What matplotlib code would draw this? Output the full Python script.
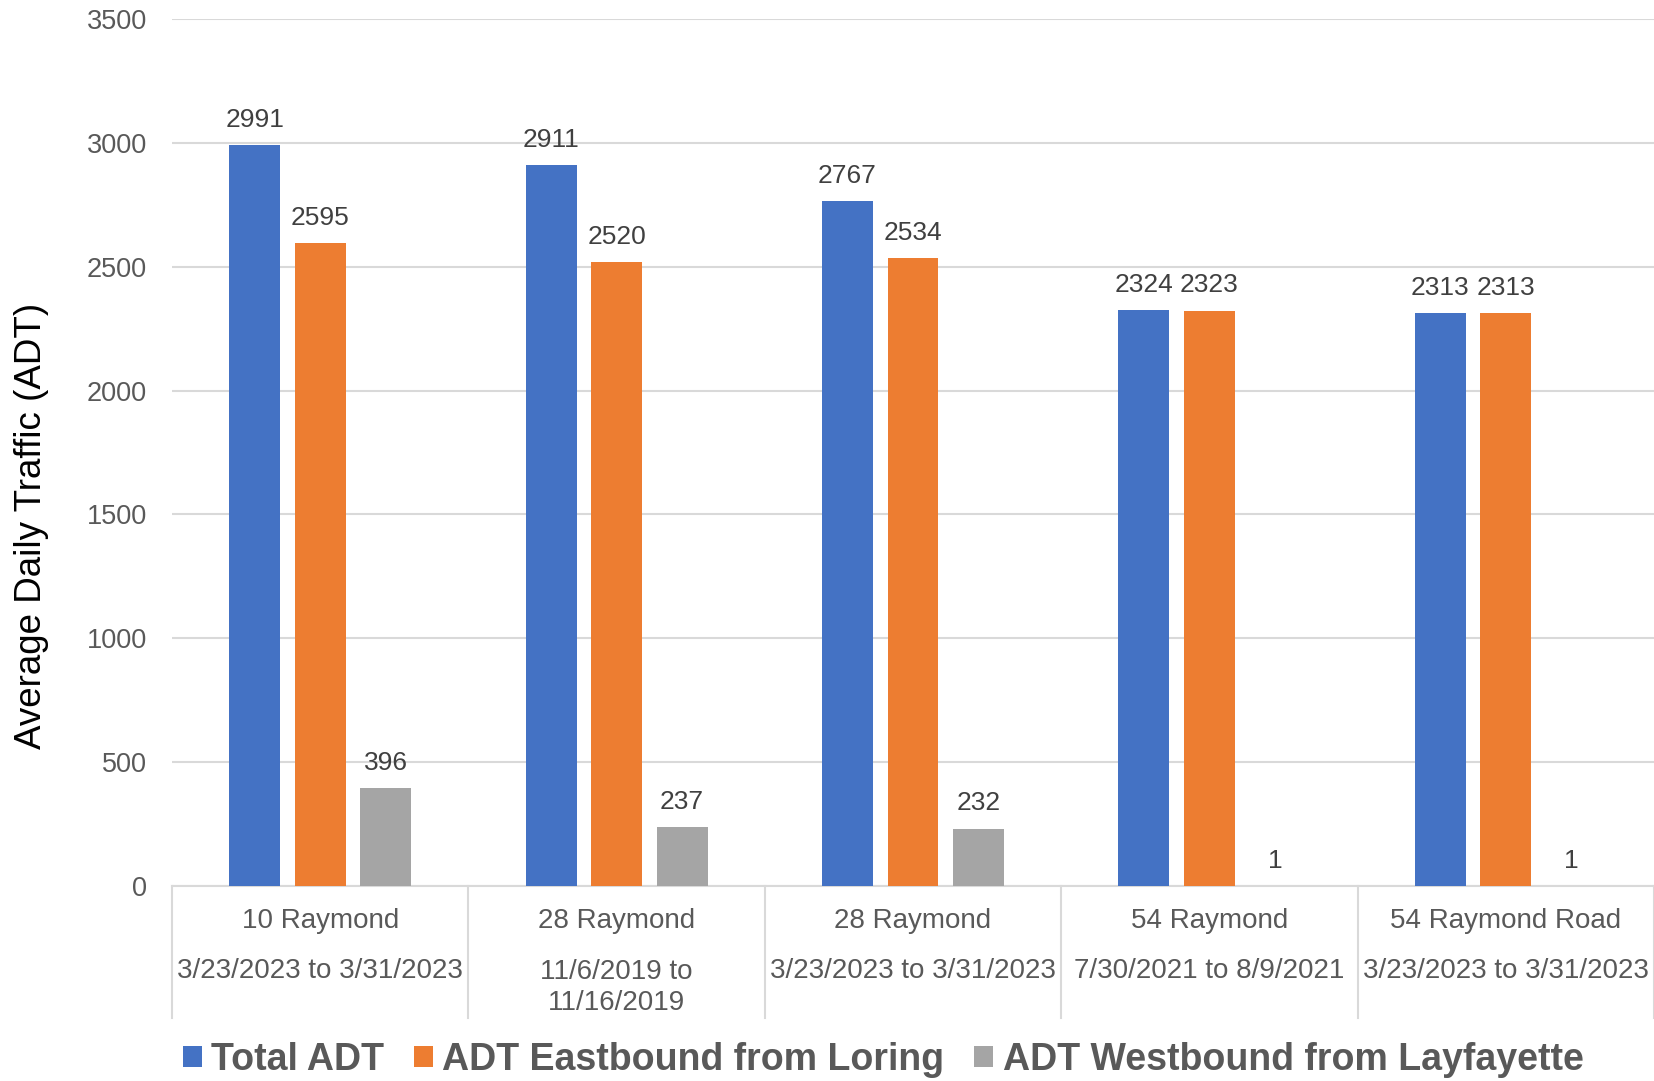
import matplotlib
matplotlib.use("Agg")

import matplotlib.pyplot as plt
import matplotlib.transforms as mtransforms
from matplotlib.patches import Patch

sites = ["10 Raymond", "28 Raymond", "28 Raymond", "54 Raymond", "54 Raymond Road"]
periods = [
    "3/23/2023 to 3/31/2023",
    "11/6/2019 to\n11/16/2019",
    "3/23/2023 to 3/31/2023",
    "7/30/2021 to 8/9/2021",
    "3/23/2023 to 3/31/2023",
]
total_adt = [2991, 2911, 2767, 2324, 2313]
eastbound = [2595, 2520, 2534, 2323, 2313]
westbound = [396, 237, 232, 1, 1]

series_names = ["Total ADT", "ADT Eastbound from Loring", "ADT Westbound from Layfayette"]
colors = ["#4472C4", "#ED7D31", "#A5A5A5"]
y_ticks = [0, 500, 1000, 1500, 2000, 2500, 3000, 3500]


def main() -> None:
    plt.rcParams["font.family"] = ["Liberation Sans", "DejaVu Sans"]
    fig = plt.figure(figsize=(16.54, 10.81), dpi=100)
    ax = fig.add_axes([0.10399, 0.18039, 0.89601, 0.80204])

    width = 0.172
    step = 0.221
    x = list(range(len(sites)))
    for k, (vals, name, col) in enumerate(zip([total_adt, eastbound, westbound], series_names, colors)):
        xs = [i + (k - 1) * step for i in x]
        bars = ax.bar(xs, vals, width=width, color=col, label=name, zorder=3)
        for b, v in zip(bars, vals):
            ax.annotate(
                str(v),
                (b.get_x() + b.get_width() / 2, b.get_height()),
                xytext=(0, 13),
                textcoords="offset points",
                ha="center",
                va="baseline",
                fontsize=19,
                color="#404040",
            )

    ax.set_xlim(-0.5, len(sites) - 0.5)
    ax.set_ylim(0, 3500)
    ax.set_yticks(y_ticks)
    ax.set_yticklabels([str(t) for t in y_ticks], fontsize=19.5, color="#595959")
    ax.tick_params(axis="y", length=0, pad=18)
    ax.set_xticks([])
    ax.yaxis.grid(True, color="#D9D9D9", linewidth=1.5, zorder=0)
    ax.set_axisbelow(True)
    for s in ["top", "right", "left"]:
        ax.spines[s].set_visible(False)
    ax.spines["bottom"].set_color("#D9D9D9")
    ax.spines["bottom"].set_linewidth(1.5)

    # category labels and separators below the axis
    trans = mtransforms.blended_transform_factory(ax.transData, ax.transAxes)
    for i in range(len(sites) + 1):
        ax.plot([i - 0.5, i - 0.5], [0, -0.152], transform=trans, color="#D9D9D9",
                linewidth=1.5, clip_on=False)
    for i, (site, per) in enumerate(zip(sites, periods)):
        ax.text(i, -0.040, site, transform=trans, ha="center", va="center",
                fontsize=20, color="#595959")
        n = per.count("\n")
        ax.text(i, -0.0975 - n * 0.0195, per, transform=trans, ha="center", va="center",
                fontsize=20, color="#595959", linespacing=1.25)

    fig.text(32 / 1654, 0.5134, "Average Daily Traffic (ADT)", rotation=90,
             ha="center", va="center", fontsize=26.5, color="#000000")

    handles = [Patch(facecolor=c, edgecolor="none") for c in colors]
    leg = fig.legend(
        handles,
        series_names,
        loc="center",
        bbox_to_anchor=(0.534, 0.0194),
        ncol=3,
        frameon=False,
        handlelength=0.5,
        handleheight=0.5,
        handletextpad=0.25,
        columnspacing=0.8,
        prop={"size": 27, "weight": "bold"},
    )
    for t in leg.get_texts():
        t.set_color("#595959")

    fig.savefig("out.png", dpi=100)


if __name__ == "__main__":
    main()
